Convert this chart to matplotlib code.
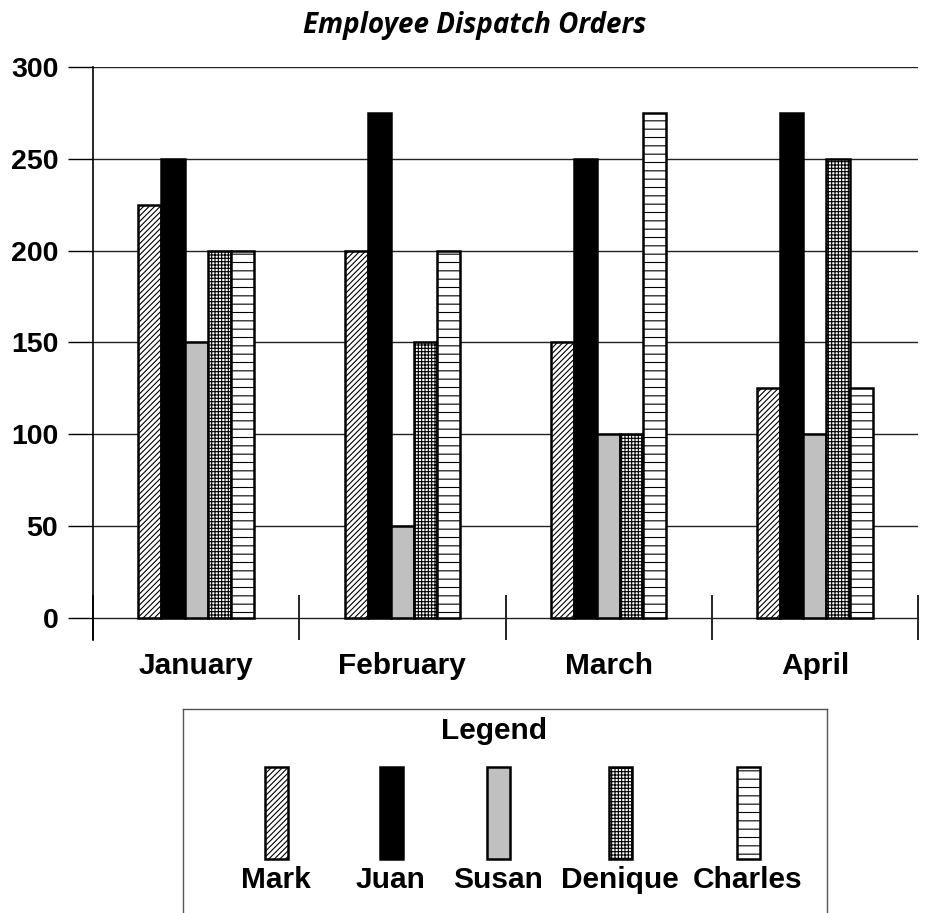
import numpy as np
import matplotlib
matplotlib.use("Agg")
import matplotlib.pyplot as plt

# data
months = ["January", "February", "March", "April"]
names = ["Mark", "Juan", "Susan", "Denique", "Charles"]
mark = [225, 200, 150, 125]
juan = [250, 275, 250, 275]
susan = [150, 50, 100, 100]
denique = [200, 150, 100, 250]
charles = [200, 200, 275, 125]
yticks = [0, 50, 100, 150, 200, 250, 300]

series = [mark, juan, susan, denique, charles]
fills = ["white", "black", "#c0c0c0", "white", "white"]
hatches = ["//////", None, None, "+++++", "--"]

plt.rcParams["hatch.linewidth"] = 0.8
plt.rcParams["font.family"] = ["Liberation Sans", "DejaVu Sans"]

W, H = 933, 913
fig = plt.figure(figsize=(W / 100, H / 100), dpi=100)

# main axes: left spine at x=93, 300 at y=67, bottom at y=640
ax = fig.add_axes([93 / W, 1 - 640 / H, (918 - 93) / W, (640 - 67) / H])
ax.set_xlim(-0.5, len(months) - 0.5)
ax.set_ylim(-12, 300)

x = np.arange(len(months))
bw = 0.112
for i, vals in enumerate(series):
    off = (i - 2) * bw
    ax.bar(x + off, vals, width=bw, color=fills[i], edgecolor="black",
           linewidth=1.8, hatch=hatches[i], zorder=3)

for s in ["top", "right", "bottom"]:
    ax.spines[s].set_visible(False)
ax.spines["left"].set_linewidth(1.2)

ax.set_yticks(yticks)
ax.set_yticklabels([str(v) for v in yticks], fontsize=20.5, fontweight="bold")
ax.tick_params(axis="y", length=18, width=1, pad=7, direction="out")
ax.yaxis.grid(True, color="#222222", linewidth=1, zorder=0)
ax.set_axisbelow(True)

ax.set_xticks(x)
ax.set_xticklabels(months, fontsize=21.5, fontweight="bold")
ax.set_xticks(np.arange(len(months) + 1) - 0.5, minor=True)
ax.tick_params(axis="x", which="major", length=0, pad=9)
ax.tick_params(axis="x", which="minor", length=32.4, width=1.2, direction="in")

fig.text(475 / W, 1 - 25 / H, "Employee Dispatch Orders", ha="center", va="center",
         fontsize=20, fontweight="bold", fontstyle="italic", family="Open Sans")

# legend box drawn as its own axes (labels sit under tall swatches)
lg = fig.add_axes([183 / W, 1 - 922 / H, (827 - 183) / W, (922 - 709) / H])
lg.set_xlim(183, 827)
lg.set_ylim(922, 709)
lg.set_xticks([])
lg.set_yticks([])
for s in lg.spines.values():
    s.set_color("#555555")
    s.set_linewidth(1)

legend_x = [276, 391, 498, 620, 748]
for i, name in enumerate(names):
    lg.bar(legend_x[i], 92, bottom=767, width=23, color=fills[i], edgecolor="black",
           linewidth=1.8, hatch=hatches[i])
    lg.text(legend_x[i], 880, name, ha="center", va="center", fontsize=21.5,
            fontweight="bold")
lg.text(494, 731, "Legend", ha="center", va="center", fontsize=21.5, fontweight="bold")

fig.savefig("out.png", dpi=100)
